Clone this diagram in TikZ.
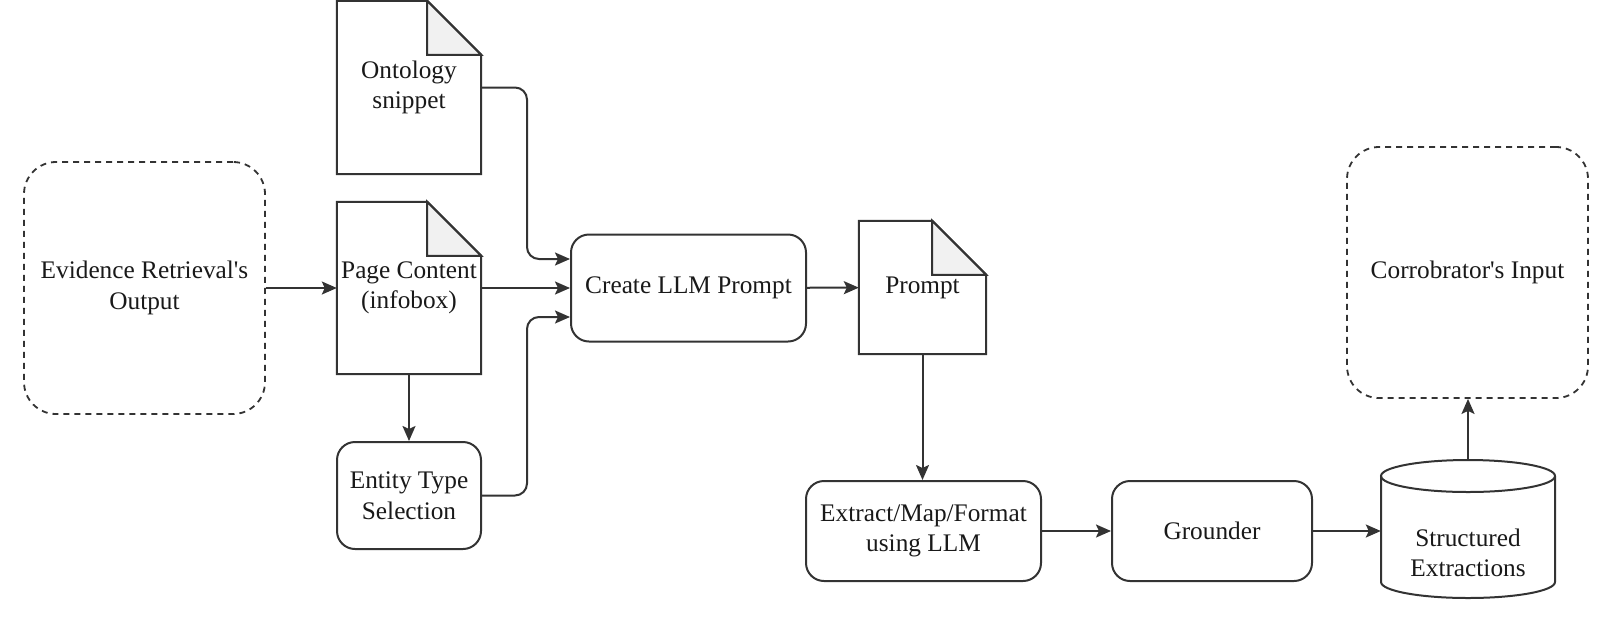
\documentclass[tikz,border=0pt]{standalone}
\usepackage{fontspec}
\setmainfont{Liberation Serif}[Ligatures=TeXOff]
\usetikzlibrary{arrows.meta}
\definecolor{ln}{HTML}{333333}
\definecolor{foldc}{HTML}{F1F1F1}
\newcommand{\drawdoc}[1]{%
  \draw[ln, line width=2pt, line join=miter] (#1.north west) -- ([xshift=-54pt]#1.north east) -- ([yshift=-54pt]#1.north east) -- (#1.south east) -- (#1.south west) -- cycle;
  \filldraw[fill=foldc, draw=ln, line width=2pt] ([xshift=-54pt]#1.north east) -- ([xshift=-54pt,yshift=-54pt]#1.north east) -- ([yshift=-54pt]#1.north east) -- cycle;
}
\begin{document}
\begin{tikzpicture}[x=1pt,y=-1pt,
  every node/.style={font=\fontsize{25.3}{30.5}\selectfont, text=black!90, align=center, inner sep=0pt},
  box/.style={draw=ln, line width=2pt, rounded corners=18pt},
  dbox/.style={draw=ln, line width=1.8pt, rounded corners=32pt, dash pattern=on 6pt off 5pt},
  docnode/.style={minimum width=144pt},
  conn/.style={draw=ln, line width=2pt, -{Stealth[length=15pt,width=13pt,inset=3pt]}},
]
\useasboundingbox (0,0) rectangle (1622,622);

\node[dbox, minimum width=241pt, minimum height=252pt] (ev) at (144.5,288) {Evidence Retrieval's\\Output};
\node[docnode, minimum height=173pt] (on) at (409,87.5) {Ontology\\snippet};
\node[docnode, minimum height=172pt] (pc) at (409,288) {Page Content\\(infobox)};
\node[box, minimum width=144pt, minimum height=107pt] (et) at (409,495.5) {Entity Type\\Selection};
\node[box, minimum width=235pt, minimum height=107pt] (cr) at (688.5,288) {Create LLM Prompt};
\node[minimum width=127pt, minimum height=133pt] (pr) at (922.5,287.5) {Prompt};
\node[box, minimum width=235pt, minimum height=100pt] (ex) at (923.5,531) {Extract/Map/Format\\using LLM};
\node[box, minimum width=200pt, minimum height=100pt] (gr) at (1212,531) {Grounder};
\node[minimum width=174pt, minimum height=138pt] (se) at (1468,529) {};
\node (set) at (1468,553) {Structured\\Extractions};
\node[dbox, minimum width=241pt, minimum height=251pt] (co) at (1467.5,272.5) {Corrobrator's Input};

\drawdoc{on}
\drawdoc{pc}
\drawdoc{pr}

% cylinder
\draw[ln, line width=2pt] (1381,476) -- (1381,582) arc[start angle=180, end angle=360, x radius=87pt, y radius=16pt] -- (1555,476);
\draw[ln, line width=2pt] (1468,476) ellipse [x radius=87pt, y radius=16pt];

% connectors
\draw[conn] (ev) -- (pc);
\draw[conn, rounded corners=12pt] (on.east) -- (527,87.5) -- (527,259) -- ([yshift=29pt]cr.west);
\draw[conn] (pc) -- (cr);
\draw[conn, rounded corners=12pt] (et.east) -- (527,495.5) -- (527,317) -- ([yshift=-29pt]cr.west);
\draw[conn] (pc) -- (et);
\draw[conn] (cr) -- (pr);
\draw[conn] (pr.south) -- (pr.south |- ex.north);
\draw[conn] (ex) -- (gr);
\draw[conn] (gr.east) -- (se.west |- gr.east);
\draw[conn] (se.north) -- (se.north |- co.south);
\end{tikzpicture}
\end{document}
